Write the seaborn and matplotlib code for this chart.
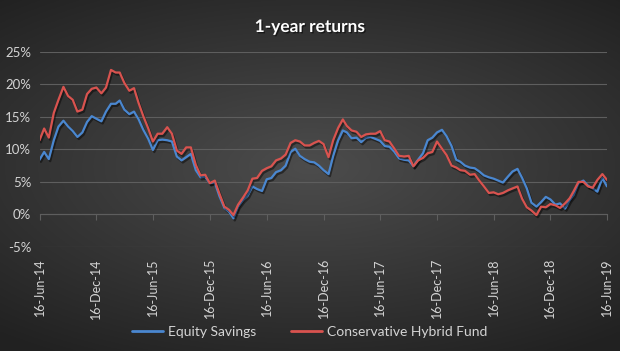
import numpy as np
import pandas as pd
import seaborn as sns
import matplotlib.pyplot as plt
import matplotlib.dates as mdates
import matplotlib.patheffects as pe
from matplotlib.ticker import FuncFormatter

# semi-monthly readings, 16-Jun-14 .. 16-Jun-19 (values in %)
dates = pd.date_range("2014-06-16", "2019-06-16", freq="SMS-16")

equity_savings = [
    8.4, 9.6, 8.5, 11.4, 13.5, 14.4, 13.5, 12.8, 11.9, 12.6,
    14.2, 15.1, 14.7, 14.3, 15.8, 17.0, 17.0, 17.5, 16.1, 15.4,
    15.8, 14.6, 13.0, 11.6, 9.9, 11.4, 11.5, 11.4, 11.2, 8.9,
    8.3, 8.8, 9.3, 6.8, 5.7, 5.8, 4.8, 4.9, 2.8, 1.0,
    0.4, -0.6, 1.2, 2.2, 2.9, 4.3, 3.9, 3.6, 5.4, 5.6,
    6.5, 6.8, 7.5, 9.6, 10.1, 9.0, 8.5, 8.1, 8.0, 7.5,
    6.8, 6.2, 9.0, 11.4, 12.9, 12.6, 11.7, 11.8, 11.1, 11.8,
    11.9, 11.6, 11.3, 10.5, 10.4, 9.6, 8.6, 8.4, 8.3, 7.4,
    8.4, 9.4, 11.4, 11.8, 12.6, 13.0, 12.0, 10.5, 8.4, 8.1,
    7.5, 7.2, 7.1, 6.6, 6.0, 5.7, 5.5, 5.2, 4.9, 5.8,
    6.6, 7.0, 5.6, 4.0, 1.8, 1.2, 1.9, 2.7, 2.3, 1.5,
    1.7, 0.9, 2.2, 3.0, 4.8, 5.2, 4.4, 4.0, 3.5, 5.6,
    4.3,
]

conservative_hybrid = [
    11.4, 13.2, 11.8, 15.6, 17.6, 19.6, 18.2, 17.6, 15.8, 16.1,
    18.5, 19.3, 19.5, 18.6, 19.5, 22.2, 21.8, 21.8, 20.2, 19.0,
    19.4, 17.1, 15.1, 13.2, 11.2, 12.4, 12.4, 13.4, 12.4, 9.8,
    9.3, 10.3, 10.3, 7.6, 6.0, 6.1, 4.8, 5.2, 3.2, 1.2,
    0.7, -0.1, 1.5, 2.6, 3.7, 5.5, 5.6, 6.7, 7.1, 7.4,
    8.3, 8.6, 9.2, 11.0, 11.4, 11.2, 10.6, 10.6, 11.0, 11.3,
    10.8, 8.8, 11.4, 13.3, 14.6, 13.6, 12.9, 12.7, 11.9, 12.3,
    12.4, 12.4, 12.8, 11.4, 11.2, 10.1, 9.0, 8.9, 9.0, 7.4,
    8.3, 8.7, 9.4, 9.6, 11.2, 10.1, 9.1, 7.5, 7.2, 6.8,
    6.7, 6.1, 6.2, 5.2, 4.3, 3.3, 3.4, 3.1, 3.3, 3.7,
    4.0, 4.3, 2.4, 1.1, 0.6, -0.1, 1.2, 1.1, 1.6, 1.4,
    1.0, 1.7, 2.5, 3.6, 5.0, 5.0, 4.3, 4.1, 5.3, 6.2,
    5.3,
]

tick_dates = pd.date_range("2014-06-16", periods=11, freq=pd.DateOffset(months=6))
y_ticks = [-5, 0, 5, 10, 15, 20, 25]

df = pd.concat([
    pd.DataFrame({"date": dates, "ret": equity_savings, "fund": "Equity Savings"}),
    pd.DataFrame({"date": dates, "ret": conservative_hybrid, "fund": "Conservative Hybrid Fund"}),
])

sns.set_theme(style="dark")
plt.rcParams["font.family"] = ["Lato", "DejaVu Sans"]
text_col = "#d4d4d4"
grid_col = "#5e5e5e"
blue = "#4a87d0"
red = "#d9534f"

fig = plt.figure(figsize=(6.2, 3.51), dpi=100)

# radial dark background
bg = fig.add_axes([0, 0, 1, 1], zorder=-1)
xx, yy = np.meshgrid(np.linspace(-1, 1, 400), np.linspace(-1, 1, 240))
r = np.sqrt((xx * 0.9) ** 2 + ((yy + 0.05) * 1.1) ** 2)
shade = 0.30 - 0.17 * np.clip(r, 0, 1.4) / 1.4
bg.imshow(np.dstack([shade] * 3), aspect="auto", extent=[0, 1, 0, 1])
bg.axis("off")

ax = fig.add_axes([39.5 / 620, 1 - 247 / 351, (607 - 39.5) / 620, (247 - 51.7) / 351])
ax.set_facecolor("none")

shadow = [pe.SimpleLineShadow(offset=(1, -1.5), shadow_color="black", alpha=0.45), pe.Normal()]
sns.lineplot(data=df, x="date", y="ret", hue="fund", ax=ax,
             palette={"Equity Savings": blue, "Conservative Hybrid Fund": red},
             linewidth=1.6, legend=False)
for ln in ax.lines:
    ln.set_path_effects(shadow)
# red drawn on top
ax.lines[1].set_zorder(3)

ax.set_xlim(tick_dates[0], tick_dates[-1])
ax.set_ylim(-5, 25)
ax.set_yticks(y_ticks)
ax.yaxis.set_major_formatter(FuncFormatter(lambda v, p: f"{v:.0f}%"))
ax.set_xticks(tick_dates)
ax.xaxis.set_major_formatter(mdates.DateFormatter("%d-%b-%y"))
ax.tick_params(axis="x", length=0, pad=8, labelrotation=90, labelsize=9, colors=text_col)
ax.tick_params(axis="y", length=0, pad=6, labelsize=9.5, colors=text_col)
ax.grid(axis="y", color=grid_col, linewidth=0.8)
ax.grid(axis="x", visible=False)
for s in ax.spines.values():
    s.set_visible(False)
ax.set_xlabel("")
ax.set_ylabel("")

# axis line with tick marks at 0%
sec = ax.secondary_xaxis(1 / 6)
sec.set_xticks(tick_dates)
sec.set_xticklabels([])
sec.tick_params(length=4, width=0.8, color=grid_col, direction="out")
sec.spines["bottom"].set_color(grid_col)
sec.spines["bottom"].set_linewidth(0.8)

fig.text(0.5, 1 - 27 / 351, "1-year returns", ha="center", va="center",
         color="white", fontsize=12.5, fontweight="bold",
         path_effects=[pe.withSimplePatchShadow(offset=(1, -1), shadow_rgbFace="black", alpha=0.5)])

handles = [plt.Line2D([], [], color=blue, lw=2), plt.Line2D([], [], color=red, lw=2)]
leg = fig.legend(handles, ["Equity Savings", "Conservative Hybrid Fund"],
                 loc="center", bbox_to_anchor=(0.5, 1 - 332 / 351), ncol=2,
                 frameon=False, fontsize=10, handlelength=2.2, columnspacing=2.5,
                 handletextpad=0.4)
for t in leg.get_texts():
    t.set_color(text_col)

fig.savefig("out.png", dpi=100)
